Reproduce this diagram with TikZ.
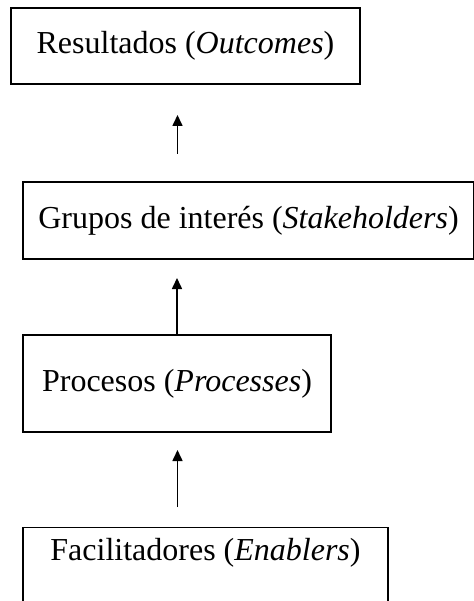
\documentclass[tikz,border=0pt]{standalone}
\usepackage{fontspec}
\setmainfont{Liberation Serif}
\usetikzlibrary{arrows.meta}
\begin{document}
\begin{tikzpicture}[x=1pt,y=-1pt,
  stagebox/.style={draw=black, line width=1.3pt, inner sep=0pt, font=\fontsize{32}{37}\selectfont},
  uparrow/.style={line width=1.6pt, -{Triangle[width=10pt,length=11pt]}}]
\useasboundingbox (0,0) rectangle (473,601);

% stage boxes, top to bottom
\node[stagebox, minimum width=349pt, minimum height=76pt] (res) at (185.5,46)
  {Resultados (\textit{Outcomes})};
\node[stagebox, minimum width=451pt, minimum height=77pt] (grp) at (248.5,220.5)
  {Grupos de interés (\textit{Stakeholders})};
\node[stagebox, minimum width=308pt, minimum height=97pt] (pro) at (177,383.5)
  {Procesos (\textit{Processes})};
% the last box runs past the lower page edge
\node[stagebox, minimum width=365pt, text height=22pt, text depth=70pt,
      inner ysep=11pt, anchor=north] (fac) at (205.5,527)
  {Facilitadores (\textit{Enablers})};

% free arrow ends
\coordinate (a1s) at (177.5,154);
\coordinate (a1e) at (177.5,115);
\coordinate (a2e) at (177,278);
\coordinate (a3s) at (177.5,507);
\coordinate (a3e) at (177.5,450);

\draw[uparrow] (a1s) -- (a1e);
\draw[uparrow] (pro.north) -- (a2e);
\draw[uparrow] (a3s) -- (a3e);
\end{tikzpicture}
\end{document}
